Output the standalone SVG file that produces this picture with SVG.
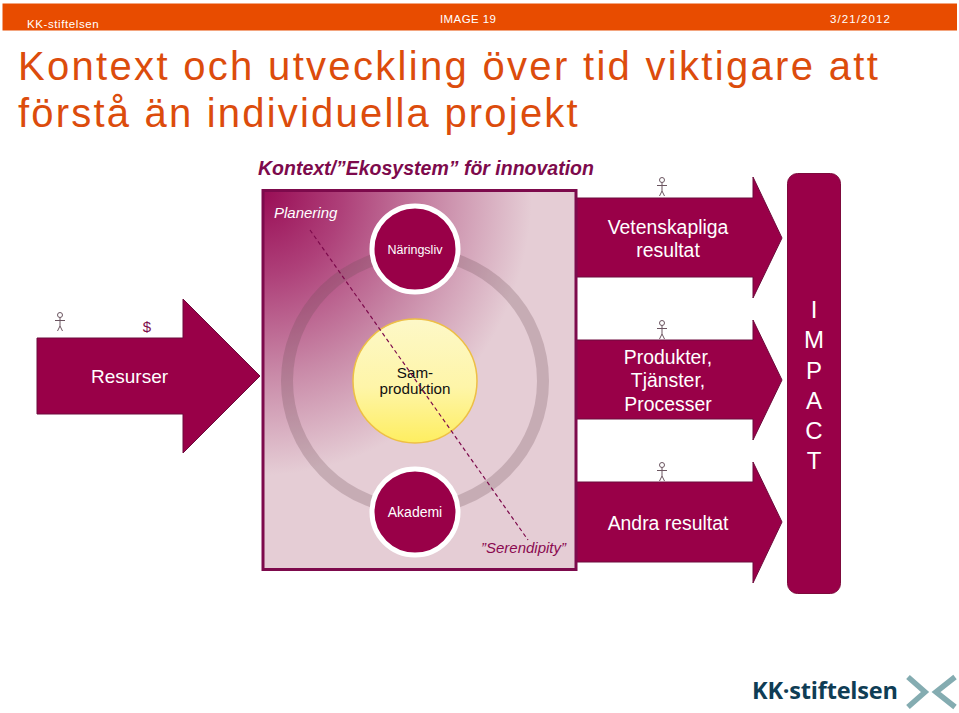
<svg xmlns="http://www.w3.org/2000/svg" width="959" height="713" viewBox="0 0 959 713">
<style>
text{font-family:"Liberation Sans",Arial,sans-serif}
.w{fill:#fff}
.m{text-anchor:middle}
.arrow{fill:#990048;stroke:#6d0a3c;stroke-width:1}
.title{fill:#DC4C0C;font-size:40px;letter-spacing:2.2px}
.hdr{fill:#fff;font-size:11.5px;letter-spacing:.6px}
.node{fill:#990048;stroke:#fff;stroke-width:5}
.p{fill:none;stroke:#6b5560;stroke-width:1}
</style>
<defs>
<radialGradient id="bg" gradientUnits="userSpaceOnUse" cx="0" cy="0" r="1" gradientTransform="translate(262 190) scale(270 285)">
<stop offset="0" stop-color="#990c55"/><stop offset=".3" stop-color="#ae4079"/><stop offset=".65" stop-color="#c98aa8"/><stop offset="1" stop-color="#e5cdd5"/>
</radialGradient>
<linearGradient id="sam" x1="0" y1="0" x2="0" y2="1"><stop offset="0" stop-color="#fdf8c8"/><stop offset=".55" stop-color="#fef5a8"/><stop offset="1" stop-color="#feee60"/></linearGradient>
<g id="person"><circle cx="0" cy="-8" r="2.500" class="p"/><path class="p" d="M0-5.500V3M-5-2.500H5M0 3L-2.500 8M0 3L2.500 8"/></g>
</defs>
<rect width="959" height="713" fill="#fff"/>
<g id="header">
<rect x="2.500" y="3.500" width="954.500" height="27" fill="#E84C00"/>
<text x="27" y="28" class="hdr">KK-stiftelsen</text>
<text x="440" y="23" class="hdr" style="letter-spacing:.4px">IMAGE 19</text>
<text x="830" y="23" class="hdr" style="letter-spacing:1.1px">3/21/2012</text>
</g>
<g id="title">
<text x="18" y="80" class="title" style="letter-spacing:2.31px">Kontext och utveckling över tid viktigare att</text>
<text x="18" y="127" class="title">förstå än individuella projekt</text>
</g>
<text x="258" y="175" font-size="19.500" font-weight="bold" font-style="italic" fill="#7d0a4c">Kontext/”Ekosystem” för innovation</text>
<g id="arrow-vetenskapliga"><path class="arrow" d="M576 198H753V177L782 238L753 298V277H576Z"/><text class="w m" font-size="19.400" x="668" y="234">Vetenskapliga</text><text class="w m" font-size="19.400" x="668" y="257">resultat</text></g>
<g id="arrow-produkter"><path class="arrow" d="M576 340H753V320L782 380L753 440V419H576Z"/><text class="w m" font-size="19.400" x="668" y="364">Produkter,</text><text class="w m" font-size="19.400" x="668" y="387">Tjänster,</text><text class="w m" font-size="19.400" x="668" y="411">Processer</text></g>
<g id="arrow-andra"><path class="arrow" d="M576 482H753V462L782 522L753 583V562H576Z"/><text class="w m" font-size="19.400" x="668" y="530">Andra resultat</text></g>
<g id="arrow-resurser"><path class="arrow" d="M37 338H183V299L260 376L183 453V414H37Z"/><text class="w m" font-size="19" x="129.500" y="383">Resurser</text></g>
<g id="kontext">
<rect x="263" y="190.500" width="313" height="379" fill="#e5cdd5"/>
<rect x="263" y="190.500" width="313" height="379" fill="url(#bg)" stroke="#7d0a4c" stroke-width="3"/>
<circle cx="415" cy="381" r="128" fill="none" stroke="#6d4a55" stroke-opacity=".25" stroke-width="12"/>
<text x="274" y="218" font-size="15" font-style="italic" class="w">Planering</text>
<text x="481" y="553" font-size="15" font-style="italic" fill="#8a0a50">”Serendipity”</text>
</g>
<g id="naringsliv"><circle class="node" cx="415" cy="249" r="43"/><text class="w m" font-size="12.500" x="415" y="254">Näringsliv</text></g>
<g id="akademi"><circle class="node" cx="415" cy="512" r="43"/><text class="w m" font-size="14" x="415" y="517">Akademi</text></g>
<g id="samproduktion"><circle cx="415" cy="381" r="62" fill="url(#sam)" stroke="#eebf45" stroke-width="1.500"/><text class="m" font-size="15.200" x="415" y="378" fill="#111">Sam-</text><text class="m" font-size="15.200" x="415" y="394" fill="#111">produktion</text></g>
<g id="connectors"><path d="M310 230L528 540" fill="none" stroke="#7d0a4c" stroke-width="1.200" stroke-dasharray="4 3"/></g>
<g id="impact">
<rect x="787.500" y="173.500" width="53" height="420" rx="10" fill="#990048" stroke="#7d0a3c"/>
<g class="w m" font-size="24"><text x="814" y="318">I</text><text x="814" y="348">M</text><text x="814" y="379">P</text><text x="814" y="409">A</text><text x="814" y="439">C</text><text x="814" y="469">T</text></g>
</g>
<g id="icons">
<use href="#person" x="662" y="188"/><use href="#person" x="662" y="331"/><use href="#person" x="662" y="473"/><use href="#person" x="60" y="323"/>
<text x="147" y="332" font-size="15" class="m" fill="#7d0a4c">$</text>
</g>
<g id="logo">
<text x="752" y="699" font-size="23.500" font-weight="bold" fill="#0f3d55" style="font-family:'Open Sans',sans-serif;letter-spacing:-.2px">KK·stiftelsen</text>
<path d="M908 677L925 692L908 707M955 677L936 692L955 707" fill="none" stroke="#84acb1" stroke-width="5.500"/>
</g>
</svg>
